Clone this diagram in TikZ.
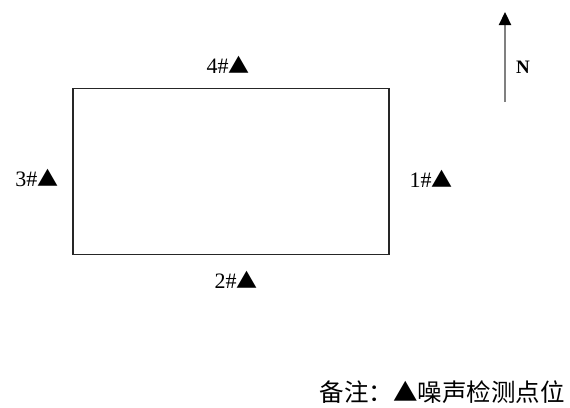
\documentclass[tikz,border=0pt]{standalone}
\usepackage{fontspec}
\setmainfont{Liberation Serif}
\newfontfamily\cjk{Noto Sans CJK SC}
\usetikzlibrary{arrows.meta}
\newcommand{\tri}{{\cjk\fontsize{21}{24}\selectfont ▲}}
\tikzset{
  lab/.style={inner sep=0pt, font=\fontsize{22}{24}\selectfont},
  box/.style={draw=black!85, line width=1.4pt, minimum width=316pt, minimum height=166pt, inner sep=0pt},
  note/.style={inner sep=0pt, font=\cjk\fontsize{24.5}{28}\selectfont}
}
\begin{document}
\begin{tikzpicture}[x=1pt,y=-1pt]
\useasboundingbox (0,0) rectangle (570,407);
\node[box] (site) at (231,171.5) {};
\node[lab] (p4) at (228,65) {4\#\tri};
\node[lab] (p3) at (37,178) {3\#\tri};
\node[lab] (p1) at (431,179) {1\#\tri};
\node[lab] (p2) at (236,280) {2\#\tri};
\coordinate (nb) at (505,102);
\coordinate (nt) at (505,12);
\draw[black!50, line width=2.2pt, -{Triangle[width=12pt,length=13pt,color=black,fill=black]}] (nb) -- (nt);
\node[inner sep=0pt, font=\bfseries\fontsize{19}{21}\selectfont] (north) at (523,67) {N};
\node[note] (legend) at (442,392) {备注：▲噪声检测点位};
\end{tikzpicture}
\end{document}
